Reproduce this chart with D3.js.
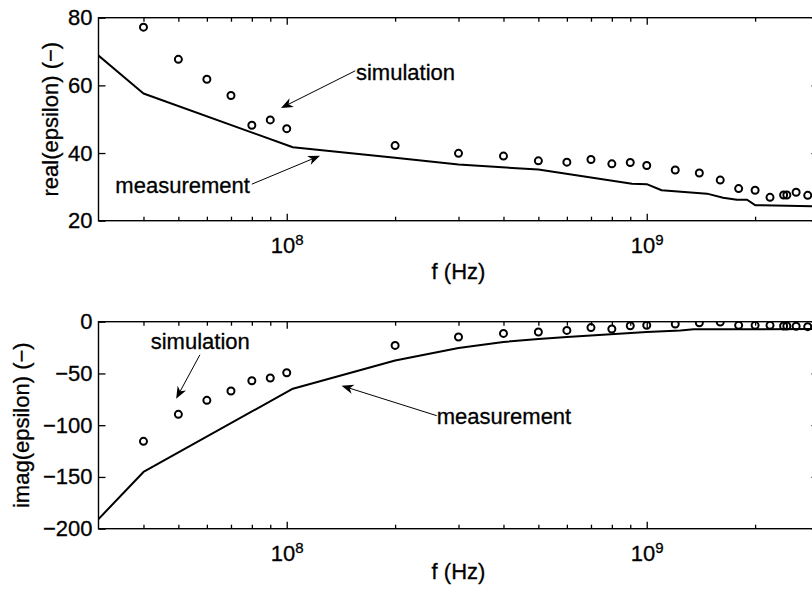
<!DOCTYPE html>
<html lang="en">
<head>
    <meta charset="UTF-8">
    <title>epsilon vs frequency</title>
    <script src="https://d3js.org/d3.v7.min.js" charset="utf-8"></script>
    <style>
        body { margin: 0; background: #fff; }
        svg { display: block; font-family: "Liberation Sans", Arial, sans-serif; }
        svg text { stroke: #000; stroke-width: 0.3; }
        .tick text { font-size: 22px; fill: #000; }
        .tick line { stroke: #000; stroke-width: 1.3; }
    </style>
</head>
<body>
    <div id="vis"></div>

    <script>

        var width = 812;
        var height = 591;

        // simulation (circles)
        var simFreq = [4e7, 5e7, 6e7, 7e7, 8e7, 9e7, 1e8, 2e8, 3e8, 4e8, 5e8, 6e8, 7e8, 8e8, 9e8,
                       1e9, 1.2e9, 1.4e9, 1.6e9, 1.8e9, 2e9, 2.2e9, 2.4e9, 2.45e9, 2.6e9, 2.8e9];
        var simReal = [77.2, 67.7, 61.8, 57.0, 48.2, 49.8, 47.2, 42.2, 39.9, 39.1, 37.7, 37.3, 38.1, 36.8, 37.2,
                       36.3, 35.0, 34.1, 32.0, 29.5, 29.0, 26.9, 27.6, 27.6, 28.4, 27.5];
        var simImag = [-115.6, -89.5, -76, -67, -57, -54.4, -49.3, -22.9, -14.8, -11.3, -10, -8.4, -5.7, -7.1, -3.9,
                       -3.4, -2.3, -1.0, -0.3, -3.5, -3.5, -3.5, -4.2, -4.2, -4.4, -4.8];

        // measurement (solid line)
        var measRealFreq = [3e7, 4e7, 1.04e8, 2e8, 3e8, 5e8, 9.1e8, 1e9, 1.1e9, 1.47e9, 1.63e9, 1.78e9, 1.9e9, 2e9, 3e9];
        var measReal     = [68.8, 57.6, 41.7, 38.6, 36.6, 35.1, 30.9, 30.8, 29.0, 28.0, 26.8, 26.2, 26.2, 24.6, 24.2];
        var measImagFreq = [3e7, 4e7, 1.04e8, 2e8, 3e8, 4e8, 5e8, 6e8, 1e9, 1.24e9, 1.35e9, 3e9];
        var measImag     = [-190.7, -145.2, -64.7, -37.5, -25.4, -19.6, -16.7, -14.8, -10, -8.4, -7.4, -7.0];

        // ticks
        var majorTicks = [1e8, 1e9];
        var minorTicks = [4e7, 5e7, 6e7, 7e7, 8e7, 9e7, 2e8, 3e8, 4e8, 5e8, 6e8, 7e8, 8e8, 9e8, 2e9, 3e9];
        var realTicks = [20, 40, 60, 80];
        var imagTicks = [-200, -150, -100, -50, 0];

        // annotations: label, label f, label value, anchor, arrow tail f/value, arrow head f/value
        var realNotes = [
            ["simulation", 1.557e8, 61.7, "start", 1.55e8, 64.3, 9.64e7, 53.3],
            ["measurement", 7.9e7, 28.3, "end", 8.0e7, 30.8, 1.237e8, 39.2]
        ];
        var imagNotes = [
            ["simulation", 4.19e7, -26.1, "start", 5.74e7, -31.9, 4.93e7, -74.4],
            ["measurement", 2.61e8, -98.6, "start", 2.61e8, -90.8, 1.42e8, -61.8]
        ];

        var svg = d3.select("#vis")
            .append("svg")
              .attr('width', width)
              .attr('height', height);

        var x_scale = d3.scaleLog()
            .domain([3e7, 3e9])
            .range([98.5, 818.5]);

        function drawPanel(top, bottom, yDomain, yTicks, freqM, valM, valS, notes, ylabel, ylabelX, xlabelY, id) {
            var y_scale = d3.scaleLinear()
                .domain(yDomain)
                .range([bottom, top]);

            var left = x_scale.range()[0];
            var right = x_scale.range()[1];

            var g = svg.append('g');

            svg.append('clipPath')
                .attr('id', 'clip' + id)
              .append('rect')
                .attr('x', left)
                .attr('y', top)
                .attr('width', right - left)
                .attr('height', bottom - top);

            // minor ticks, bottom and top
            g.append('g')
                .attr('transform', 'translate(0,' + bottom + ')')
                .call(d3.axisBottom(x_scale).tickValues(minorTicks).tickSize(-4).tickSizeOuter(0).tickFormat(''))
                .call(function(a){ a.select('.domain').remove(); });
            g.append('g')
                .attr('transform', 'translate(0,' + top + ')')
                .call(d3.axisTop(x_scale).tickValues(minorTicks).tickSize(-4).tickSizeOuter(0).tickFormat(''))
                .call(function(a){ a.select('.domain').remove(); });

            // major ticks with 10^n labels
            var xa = g.append('g')
                .attr('transform', 'translate(0,' + bottom + ')')
                .call(d3.axisBottom(x_scale).tickValues(majorTicks).tickSize(-7).tickSizeOuter(0).tickPadding(17).tickFormat(''));
            xa.select('.domain').remove();
            xa.selectAll('.tick text').each(function(d){
                var t = d3.select(this);
                t.text('10');
                t.append('tspan')
                    .attr('dy', '-0.53em')
                    .style('font-size', '15px')
                    .text(Math.round(Math.log10(d)));
            });
            g.append('g')
                .attr('transform', 'translate(0,' + top + ')')
                .call(d3.axisTop(x_scale).tickValues(majorTicks).tickSize(-7).tickSizeOuter(0).tickFormat(''))
                .call(function(a){ a.select('.domain').remove(); });

            // y axes
            g.append('g')
                .attr('transform', 'translate(' + left + ',0)')
                .call(d3.axisLeft(y_scale).tickValues(yTicks).tickSize(-7).tickSizeOuter(0).tickPadding(6).tickFormat(d3.format('d')))
                .call(function(a){ a.select('.domain').remove(); });
            g.append('g')
                .attr('transform', 'translate(' + right + ',0)')
                .call(d3.axisRight(y_scale).tickValues(yTicks).tickSize(-7).tickSizeOuter(0).tickFormat(''))
                .call(function(a){ a.select('.domain').remove(); });

            // box
            g.append('rect')
                .attr('x', left)
                .attr('y', top)
                .attr('width', right - left)
                .attr('height', bottom - top)
                .attr('fill', 'none')
                .attr('stroke', '#000')
                .attr('stroke-width', 1.4);

            var plot = g.append('g').attr('clip-path', 'url(#clip' + id + ')');

            var line = d3.line()
                .x(function(d){ return x_scale(d[0]); })
                .y(function(d){ return y_scale(d[1]); });

            plot.append('path')
                .datum(d3.zip(freqM, valM))
                .attr('d', line)
                .attr('fill', 'none')
                .attr('stroke', '#000')
                .attr('stroke-width', 2)
                .attr('stroke-linejoin', 'round');

            plot.selectAll('.dot')
                .data(d3.zip(simFreq, valS))
                .enter()
                .append('circle')
                .attr('class', 'dot')
                .attr('cx', function(d){ return x_scale(d[0]); })
                .attr('cy', function(d){ return y_scale(d[1]); })
                .attr('r', 3.5)
                .attr('fill', 'none')
                .attr('stroke', '#000')
                .attr('stroke-width', 2);

            // annotations with arrows
            notes.forEach(function(n){
                g.append('text')
                    .attr('x', x_scale(n[1]))
                    .attr('y', y_scale(n[2]))
                    .attr('text-anchor', n[3])
                    .style('font-size', '22px')
                    .text(n[0]);

                var x1 = x_scale(n[4]), y1 = y_scale(n[5]);
                var x2 = x_scale(n[6]), y2 = y_scale(n[7]);
                var ang = Math.atan2(y2 - y1, x2 - x1);
                var len = 12, half = 4.8, back = 8.5;
                var ca = Math.cos(ang), sa = Math.sin(ang);
                var bx = x2 - len * ca, by = y2 - len * sa;
                var ix = x2 - back * ca, iy = y2 - back * sa;

                g.append('line')
                    .attr('x1', x1).attr('y1', y1)
                    .attr('x2', ix).attr('y2', iy)
                    .attr('stroke', '#000')
                    .attr('stroke-width', 1);

                g.append('path')
                    .attr('d', 'M' + x2 + ',' + y2 +
                        'L' + (bx - half * sa) + ',' + (by + half * ca) +
                        'L' + ix + ',' + iy +
                        'L' + (bx + half * sa) + ',' + (by - half * ca) + 'Z')
                    .attr('fill', '#000');
            });

            // axis labels
            g.append('text')
                .attr('transform', 'translate(' + ylabelX + ',' + ((top + bottom) / 2) + ') rotate(-90)')
                .attr('text-anchor', 'middle')
                .style('font-size', '22px')
                .text(ylabel);

            g.append('text')
                .attr('x', (left + right) / 2)
                .attr('y', xlabelY)
                .attr('text-anchor', 'middle')
                .style('font-size', '22px')
                .text('f (Hz)');
        }

        drawPanel(17.7, 220.7, [20, 80], realTicks, measRealFreq, measReal, simReal, realNotes,
                  'real(epsilon) (\u2212)', 58, 278.5, 1);
        drawPanel(321.7, 528.7, [-200, 0], imagTicks, measImagFreq, measImag, simImag, imagNotes,
                  'imag(epsilon) (\u2212)', 29, 579, 2);

    </script>
</body>
</html>
